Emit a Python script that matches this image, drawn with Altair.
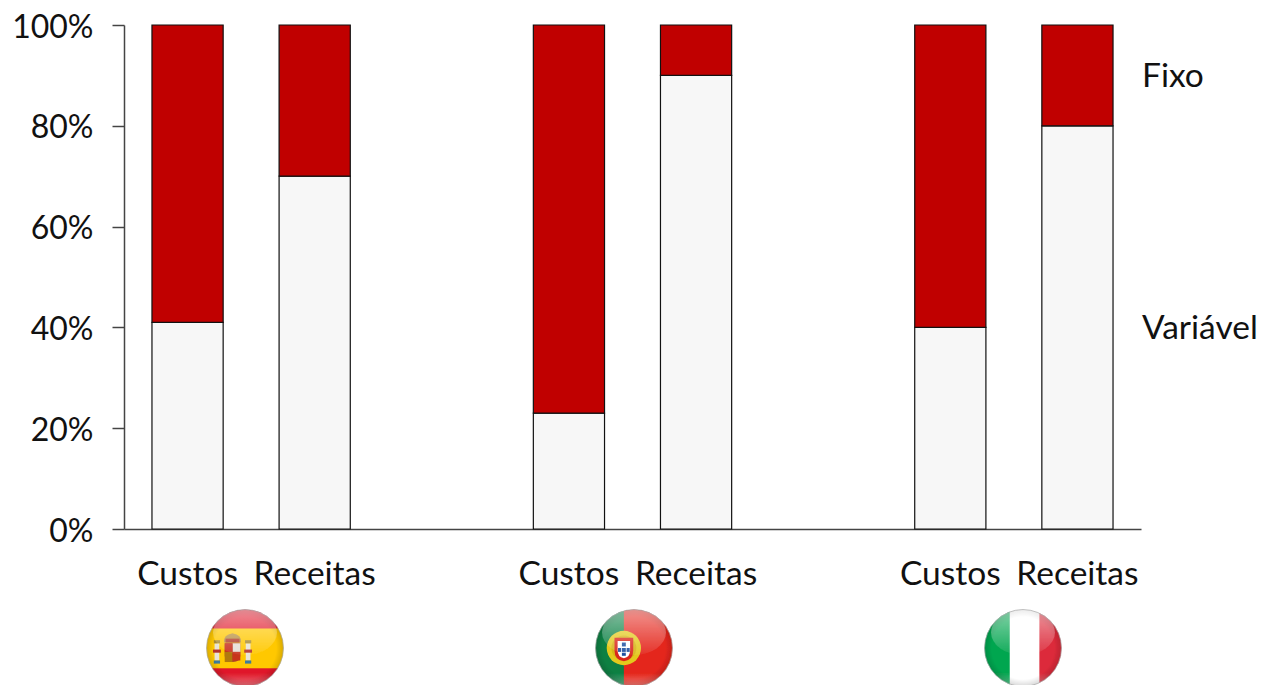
import base64
import altair as alt
import pandas as pd

slots = ["ES|Custos", "ES|Receitas", "gap1|", "PT|Custos", "PT|Receitas", "gap2|", "IT|Custos", "IT|Receitas"]
bar_slots = ["ES|Custos", "ES|Receitas", "PT|Custos", "PT|Receitas", "IT|Custos", "IT|Receitas"]
variavel = [41, 70, 23, 90, 40, 80]
fixo = [59, 30, 77, 10, 60, 20]
y_ticks = [0, 20, 40, 60, 80, 100]
series_labels = ["Fixo", "Variável"]
series_label_levels = [90, 40]

FONT = "Lato"
FONT_SIZE = 33.5
TEXT = "#111111"
LINE = "#444444"

bars = pd.DataFrame(
    [{"slot": s, "serie": "Variável", "ordem": 0, "valor": v} for s, v in zip(bar_slots, variavel)]
    + [{"slot": s, "serie": "Fixo", "ordem": 1, "valor": v} for s, v in zip(bar_slots, fixo)]
)

y_scale = alt.Scale(domain=[0, 100], nice=False)
y_axis = alt.Axis(
    title=None,
    values=y_ticks,
    labelExpr="datum.value + '%'",
    labelFont=FONT,
    labelFontSize=32,
    labelColor=TEXT,
    labelPadding=19,
    labelOffset=2,
    labelBound=False,
    labelFlush=False,
    tickSize=12,
    tickColor=LINE,
    tickWidth=1.5,
    domainColor=LINE,
    domainWidth=1.5,
    grid=False,
)

bar_layer = (
    alt.Chart(bars)
    .mark_bar(stroke="#111111", strokeWidth=1.2)
    .encode(
        x=alt.X(
            "slot:N",
            sort=slots,
            scale=alt.Scale(domain=slots, paddingInner=0.44, paddingOuter=0.22),
            axis=alt.Axis(
                title=None,
                labelExpr="split(datum.value, '|')[1]",
                labelAngle=0,
                labelFont=FONT,
                labelFontSize=FONT_SIZE,
                labelColor=TEXT,
                labelPadding=29,
                labelOverlap=False,
                labelBound=False,
                labelFlush=False,
                ticks=False,
                domainColor=LINE,
                domainWidth=1.5,
                grid=False,
            ),
        ),
        y=alt.Y("valor:Q", stack="zero", scale=y_scale, axis=y_axis),
        order=alt.Order("ordem:Q"),
        color=alt.Color(
            "serie:N",
            scale=alt.Scale(domain=series_labels, range=["#c00000", "#f7f7f7"]),
            legend=None,
        ),
    )
)

series_layer = (
    alt.Chart(pd.DataFrame({"serie": series_labels, "nivel": series_label_levels}))
    .mark_text(align="left", baseline="middle", dy=2, font=FONT, fontSize=FONT_SIZE, color=TEXT)
    .encode(
        x=alt.value(1018),
        y=alt.Y("nivel:Q", scale=y_scale, axis=y_axis),
        text="serie:N",
    )
)


def badge(body):
    """Wrap a flag drawing in a glossy round button, as a 100x100 SVG."""
    svg = f"""<svg xmlns="http://www.w3.org/2000/svg" width="200" height="200" viewBox="0 0 100 100">
<defs>
<clipPath id="c"><circle cx="50" cy="50" r="49.5"/></clipPath>
<radialGradient id="edge" cx="50%" cy="50%" r="50%">
<stop offset="80%" stop-color="#000" stop-opacity="0"/>
<stop offset="100%" stop-color="#000" stop-opacity="0.16"/></radialGradient>
<linearGradient id="gloss" x1="0" y1="0" x2="0" y2="1">
<stop offset="0%" stop-color="#fff" stop-opacity="0.5"/>
<stop offset="100%" stop-color="#fff" stop-opacity="0.06"/></linearGradient>
<linearGradient id="low" x1="0" y1="0" x2="0" y2="1">
<stop offset="0%" stop-color="#fff" stop-opacity="0"/>
<stop offset="100%" stop-color="#fff" stop-opacity="0.4"/></linearGradient>
<filter id="soft"><feGaussianBlur stdDeviation="0.7"/></filter>
</defs>
<g clip-path="url(#c)" filter="url(#soft)">
{body}
<rect x="0" y="82" width="100" height="18" fill="url(#low)"/>
<circle cx="50" cy="50" r="50" fill="url(#edge)"/>
<ellipse cx="50" cy="30" rx="41" ry="29" fill="url(#gloss)"/>
</g>
<circle cx="50" cy="50" r="49.3" fill="none" stroke="#aaa" stroke-width="0.9"/>
</svg>"""
    return "data:image/svg+xml;base64," + base64.b64encode(svg.encode()).decode()


spain = """<rect width="100" height="100" fill="#e0182a"/>
<rect y="25" width="100" height="51" fill="#ffc800"/>
<path d="M24 44 H44 V60 Q44 68 34 68 Q24 68 24 60 Z" fill="#a8402a"/>
<rect x="34" y="44" width="10" height="11" fill="#e6dfd8"/>
<rect x="24" y="44" width="10" height="11" fill="#c83020"/>
<rect x="24" y="55" width="10" height="13" fill="#b07a10"/>
<rect x="34" y="55" width="10" height="11" fill="#c8341f"/>
<path d="M23 43 Q22 33 34 31 Q46 33 45 43 Z" fill="#b89040"/>
<rect x="25" y="38" width="18" height="5" fill="#b03a2a"/>
<rect x="11" y="44" width="6" height="22" fill="#e8e4d8"/>
<rect x="51" y="44" width="6" height="22" fill="#e8e4d8"/>
<rect x="10" y="40" width="8" height="4" fill="#a88a30"/>
<rect x="50" y="40" width="8" height="4" fill="#a88a30"/>
<rect x="9" y="52" width="10" height="4" fill="#b5302a"/>
<rect x="49" y="52" width="10" height="4" fill="#b5302a"/>
<rect x="10" y="66" width="8" height="4" fill="#3c7c9c"/>
<rect x="50" y="66" width="8" height="4" fill="#3c7c9c"/>"""

portugal = """<rect width="100" height="100" fill="#e4261c"/>
<rect width="37" height="100" fill="#0a8043"/>
<circle cx="37" cy="50" r="22" fill="#e3c91f"/>
<circle cx="37" cy="50" r="16" fill="#c9a010" fill-opacity="0.5"/>
<path d="M25 37 H49 V53 Q49 66 37 67 Q25 66 25 53 Z" fill="#d9261c"/>
<path d="M29 41 H45 V53 Q45 62 37 63 Q29 62 29 53 Z" fill="#fff"/>
<g fill="#1d4fa0"><rect x="34.5" y="43" width="5" height="5"/><rect x="34.5" y="50" width="5" height="5"/>
<rect x="34.5" y="56" width="5" height="4"/><rect x="29.5" y="50" width="4" height="5"/><rect x="40.5" y="50" width="4" height="5"/></g>"""

italy = """<rect width="100" height="100" fill="#ffffff"/>
<rect width="33" height="100" fill="#04a650"/>
<rect x="71" width="29" height="100" fill="#dc2a3a"/>"""

flag_urls = [badge(spain), badge(portugal), badge(italy)]
flag_offsets = [121, 510, 899]

flag_layers = [
    alt.Chart(pd.DataFrame({"url": [u]}))
    .mark_image(width=78, height=78, align="center", baseline="middle")
    .encode(url="url:N", x=alt.value(dx), y=alt.value(623))
    for u, dx in zip(flag_urls, flag_offsets)
]

chart = (
    alt.layer(bar_layer, series_layer, *flag_layers)
    .resolve_scale(y="shared")
    .properties(
        width=1017,
        height=504,
        padding={"left": 124, "top": 25, "right": 123, "bottom": 156},
        autosize=alt.AutoSizeParams(type="none"),
        background="white",
    )
    .configure_view(stroke=None)
)

chart.save("out.html", embed_options={"renderer": "svg", "actions": False})
